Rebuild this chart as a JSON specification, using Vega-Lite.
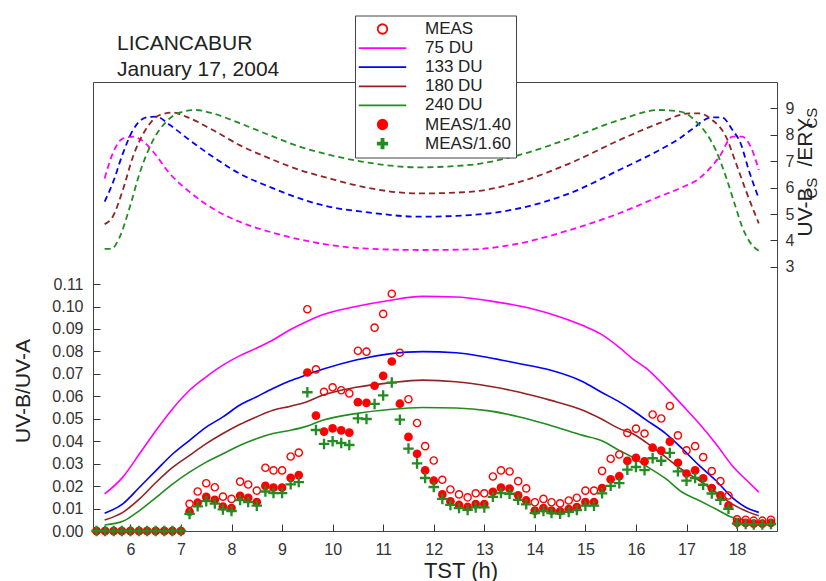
{
  "$schema": "https://vega.github.io/schema/vega-lite/v6.json",
  "width": 684,
  "height": 449,
  "autosize": {"type": "none"},
  "padding": {"left": 93, "top": 82, "right": 49, "bottom": 50},
  "background": "white",
  "config": {
    "font": "Liberation Sans",
    "view": {"stroke": "#444", "strokeWidth": 1},
    "axis": {"grid": false, "domain": false, "tickColor": "#333", "tickWidth": 1, "labelColor": "#333", "labelFont": "Liberation Sans", "labelFontSize": 16, "titleFont": "Liberation Sans", "titleFontWeight": "normal", "titleColor": "#222"}
  },
  "title": {"text": ["LICANCABUR", "January 17, 2004"], "anchor": "start", "frame": "group", "dx": 24, "dy": 89, "offset": 3, "fontSize": 21, "fontWeight": "normal", "font": "Liberation Sans", "color": "#222", "lineHeight": 26, "baseline": "bottom"},
  "datasets": {
    "pts": [
      {"t": 5.33, "MEAS": 0, "d14": 0, "d16": 0},
      {"t": 5.5, "MEAS": 0, "d14": 0, "d16": 0},
      {"t": 5.67, "MEAS": 0, "d14": 0, "d16": 0},
      {"t": 5.83, "MEAS": 0, "d14": 0, "d16": 0},
      {"t": 6.0, "MEAS": 0, "d14": 0, "d16": 0},
      {"t": 6.17, "MEAS": 0, "d14": 0, "d16": 0},
      {"t": 6.33, "MEAS": 0, "d14": 0, "d16": 0},
      {"t": 6.5, "MEAS": 0, "d14": 0, "d16": 0},
      {"t": 6.67, "MEAS": 0, "d14": 0, "d16": 0},
      {"t": 6.83, "MEAS": 0, "d14": 0, "d16": 0},
      {"t": 7.0, "MEAS": 0, "d14": 0, "d16": 0},
      {"t": 7.17, "MEAS": 0.0121, "d14": 0.0086, "d16": 0.0076},
      {"t": 7.33, "MEAS": 0.0176, "d14": 0.0126, "d16": 0.011},
      {"t": 7.5, "MEAS": 0.0213, "d14": 0.0152, "d16": 0.0133},
      {"t": 7.67, "MEAS": 0.0195, "d14": 0.0139, "d16": 0.0122},
      {"t": 7.83, "MEAS": 0.0153, "d14": 0.0109, "d16": 0.0096},
      {"t": 8.0, "MEAS": 0.0143, "d14": 0.0102, "d16": 0.0089},
      {"t": 8.17, "MEAS": 0.022, "d14": 0.0157, "d16": 0.0138},
      {"t": 8.33, "MEAS": 0.0207, "d14": 0.0148, "d16": 0.0129},
      {"t": 8.5, "MEAS": 0.018, "d14": 0.0129, "d16": 0.0113},
      {"t": 8.67, "MEAS": 0.0282, "d14": 0.0201, "d16": 0.0176},
      {"t": 8.83, "MEAS": 0.027, "d14": 0.0193, "d16": 0.0169},
      {"t": 9.0, "MEAS": 0.027, "d14": 0.0193, "d16": 0.0169},
      {"t": 9.17, "MEAS": 0.0332, "d14": 0.0237, "d16": 0.0208},
      {"t": 9.33, "MEAS": 0.0349, "d14": 0.0249, "d16": 0.0218},
      {"t": 9.5, "MEAS": 0.0988, "d14": 0.0706, "d16": 0.0618},
      {"t": 9.67, "MEAS": 0.072, "d14": 0.0514, "d16": 0.045},
      {"t": 9.83, "MEAS": 0.062, "d14": 0.0443, "d16": 0.0388},
      {"t": 10.0, "MEAS": 0.064, "d14": 0.0457, "d16": 0.04},
      {"t": 10.17, "MEAS": 0.0627, "d14": 0.0448, "d16": 0.0392},
      {"t": 10.33, "MEAS": 0.0613, "d14": 0.0438, "d16": 0.0383},
      {"t": 10.5, "MEAS": 0.0803, "d14": 0.0574, "d16": 0.0502},
      {"t": 10.67, "MEAS": 0.0799, "d14": 0.0571, "d16": 0.0499},
      {"t": 10.83, "MEAS": 0.0906, "d14": 0.0647, "d16": 0.0566},
      {"t": 11.0, "MEAS": 0.0967, "d14": 0.0691, "d16": 0.0604},
      {"t": 11.17, "MEAS": 0.1057, "d14": 0.0755, "d16": 0.0661},
      {"t": 11.33, "MEAS": 0.0794, "d14": 0.0567, "d16": 0.0496},
      {"t": 11.5, "MEAS": 0.0587, "d14": 0.0419, "d16": 0.0367},
      {"t": 11.67, "MEAS": 0.0481, "d14": 0.0344, "d16": 0.0301},
      {"t": 11.83, "MEAS": 0.0378, "d14": 0.027, "d16": 0.0236},
      {"t": 12.0, "MEAS": 0.0314, "d14": 0.0224, "d16": 0.0196},
      {"t": 12.17, "MEAS": 0.0228, "d14": 0.0163, "d16": 0.0143},
      {"t": 12.33, "MEAS": 0.0185, "d14": 0.0132, "d16": 0.0116},
      {"t": 12.5, "MEAS": 0.0163, "d14": 0.0116, "d16": 0.0102},
      {"t": 12.67, "MEAS": 0.015, "d14": 0.0107, "d16": 0.0094},
      {"t": 12.83, "MEAS": 0.0168, "d14": 0.012, "d16": 0.0105},
      {"t": 13.0, "MEAS": 0.0168, "d14": 0.012, "d16": 0.0105},
      {"t": 13.17, "MEAS": 0.0243, "d14": 0.0174, "d16": 0.0152},
      {"t": 13.33, "MEAS": 0.027, "d14": 0.0193, "d16": 0.0169},
      {"t": 13.5, "MEAS": 0.0265, "d14": 0.0189, "d16": 0.0166},
      {"t": 13.67, "MEAS": 0.0222, "d14": 0.0159, "d16": 0.0139},
      {"t": 13.83, "MEAS": 0.019, "d14": 0.0136, "d16": 0.0119},
      {"t": 14.0, "MEAS": 0.0128, "d14": 0.0091, "d16": 0.008},
      {"t": 14.17, "MEAS": 0.0143, "d14": 0.0102, "d16": 0.0089},
      {"t": 14.33, "MEAS": 0.0128, "d14": 0.0091, "d16": 0.008},
      {"t": 14.5, "MEAS": 0.0123, "d14": 0.0088, "d16": 0.0077},
      {"t": 14.67, "MEAS": 0.0136, "d14": 0.0097, "d16": 0.0085},
      {"t": 14.83, "MEAS": 0.0148, "d14": 0.0106, "d16": 0.0093},
      {"t": 15.0, "MEAS": 0.018, "d14": 0.0129, "d16": 0.0113},
      {"t": 15.17, "MEAS": 0.018, "d14": 0.0129, "d16": 0.0113},
      {"t": 15.33, "MEAS": 0.0268, "d14": 0.0191, "d16": 0.0168},
      {"t": 15.5, "MEAS": 0.0322, "d14": 0.023, "d16": 0.0201},
      {"t": 15.67, "MEAS": 0.0341, "d14": 0.0244, "d16": 0.0213},
      {"t": 15.83, "MEAS": 0.0437, "d14": 0.0312, "d16": 0.0273},
      {"t": 16.0, "MEAS": 0.0456, "d14": 0.0326, "d16": 0.0285},
      {"t": 16.17, "MEAS": 0.0434, "d14": 0.031, "d16": 0.0271},
      {"t": 16.33, "MEAS": 0.0519, "d14": 0.0371, "d16": 0.0324},
      {"t": 16.5, "MEAS": 0.0501, "d14": 0.0358, "d16": 0.0313},
      {"t": 16.67, "MEAS": 0.0557, "d14": 0.0398, "d16": 0.0348},
      {"t": 16.83, "MEAS": 0.0426, "d14": 0.0304, "d16": 0.0266},
      {"t": 17.0, "MEAS": 0.0359, "d14": 0.0256, "d16": 0.0224},
      {"t": 17.17, "MEAS": 0.0378, "d14": 0.027, "d16": 0.0236},
      {"t": 17.33, "MEAS": 0.0329, "d14": 0.0235, "d16": 0.0206},
      {"t": 17.5, "MEAS": 0.0267, "d14": 0.0191, "d16": 0.0167},
      {"t": 17.67, "MEAS": 0.0222, "d14": 0.0159, "d16": 0.0139},
      {"t": 17.83, "MEAS": 0.0158, "d14": 0.0113, "d16": 0.0099},
      {"t": 18.0, "MEAS": 0.0052, "d14": 0.0037, "d16": 0.0033},
      {"t": 18.17, "MEAS": 0.005, "d14": 0.0036, "d16": 0.0031},
      {"t": 18.33, "MEAS": 0.0046, "d14": 0.0033, "d16": 0.0029},
      {"t": 18.5, "MEAS": 0.0046, "d14": 0.0033, "d16": 0.0029},
      {"t": 18.67, "MEAS": 0.005, "d14": 0.0036, "d16": 0.0031}
    ],
    "sol": [
      {"t": 5.49, "a": 0.0165, "b": 0.0079, "c": 0.0049, "d": 0.0027},
      {"t": 5.85, "a": 0.024, "b": 0.0121, "c": 0.0083, "d": 0.0043},
      {"t": 6.18, "a": 0.0344, "b": 0.0195, "c": 0.0143, "d": 0.0091},
      {"t": 6.51, "a": 0.0449, "b": 0.027, "c": 0.0217, "d": 0.015},
      {"t": 6.84, "a": 0.0546, "b": 0.0344, "c": 0.0284, "d": 0.021},
      {"t": 7.17, "a": 0.0627, "b": 0.0404, "c": 0.0337, "d": 0.0262},
      {"t": 7.5, "a": 0.0687, "b": 0.0463, "c": 0.0389, "d": 0.0307},
      {"t": 7.83, "a": 0.0739, "b": 0.0508, "c": 0.0434, "d": 0.0344},
      {"t": 8.16, "a": 0.078, "b": 0.056, "c": 0.0474, "d": 0.0381},
      {"t": 8.49, "a": 0.0814, "b": 0.0597, "c": 0.0508, "d": 0.0411},
      {"t": 8.82, "a": 0.0851, "b": 0.0635, "c": 0.0538, "d": 0.0434},
      {"t": 9.15, "a": 0.0895, "b": 0.0668, "c": 0.0555, "d": 0.0448},
      {"t": 9.48, "a": 0.0932, "b": 0.0695, "c": 0.0575, "d": 0.0466},
      {"t": 9.8, "a": 0.0963, "b": 0.072, "c": 0.0605, "d": 0.0493},
      {"t": 10.46, "a": 0.1, "b": 0.0762, "c": 0.064, "d": 0.0523},
      {"t": 11.12, "a": 0.1027, "b": 0.0789, "c": 0.066, "d": 0.0541},
      {"t": 11.78, "a": 0.1045, "b": 0.0799, "c": 0.0672, "d": 0.055},
      {"t": 12.44, "a": 0.1042, "b": 0.0794, "c": 0.0665, "d": 0.0548},
      {"t": 13.1, "a": 0.1025, "b": 0.0772, "c": 0.0645, "d": 0.0535},
      {"t": 13.7, "a": 0.1002, "b": 0.0745, "c": 0.0618, "d": 0.0508},
      {"t": 14.3, "a": 0.0968, "b": 0.0717, "c": 0.0583, "d": 0.0471},
      {"t": 14.95, "a": 0.0915, "b": 0.0665, "c": 0.0538, "d": 0.0426},
      {"t": 15.3, "a": 0.0878, "b": 0.062, "c": 0.0501, "d": 0.0404},
      {"t": 15.67, "a": 0.0818, "b": 0.0575, "c": 0.0456, "d": 0.0359},
      {"t": 15.93, "a": 0.0768, "b": 0.0538, "c": 0.0434, "d": 0.0329},
      {"t": 16.2, "a": 0.0725, "b": 0.0495, "c": 0.0395, "d": 0.029},
      {"t": 16.59, "a": 0.064, "b": 0.0434, "c": 0.0329, "d": 0.0233},
      {"t": 16.9, "a": 0.0565, "b": 0.037, "c": 0.0275, "d": 0.0175},
      {"t": 17.25, "a": 0.0479, "b": 0.0292, "c": 0.0225, "d": 0.0136},
      {"t": 17.58, "a": 0.0389, "b": 0.0225, "c": 0.0173, "d": 0.0098},
      {"t": 17.9, "a": 0.0292, "b": 0.015, "c": 0.0121, "d": 0.0061},
      {"t": 18.24, "a": 0.0215, "b": 0.0098, "c": 0.0083, "d": 0.0046},
      {"t": 18.43, "a": 0.0173, "b": 0.0083, "c": 0.0068, "d": 0.0038}
    ],
    "d75": [
      {"t": 5.49, "r": 6.35}, {"t": 5.65, "r": 7.29}, {"t": 5.85, "r": 7.86}, {"t": 6.05, "r": 7.93},
      {"t": 6.22, "r": 7.8}, {"t": 6.45, "r": 7.36}, {"t": 6.78, "r": 6.53}, {"t": 7.17, "r": 5.84},
      {"t": 7.63, "r": 5.21}, {"t": 8.16, "r": 4.71}, {"t": 8.75, "r": 4.33}, {"t": 9.35, "r": 4.04},
      {"t": 9.94, "r": 3.83}, {"t": 10.6, "r": 3.7}, {"t": 11.72, "r": 3.64}, {"t": 12.71, "r": 3.66},
      {"t": 13.7, "r": 3.89}, {"t": 14.68, "r": 4.39}, {"t": 15.67, "r": 5.03}, {"t": 16.46, "r": 5.66},
      {"t": 16.86, "r": 5.97}, {"t": 17.25, "r": 6.35}, {"t": 17.65, "r": 7.17}, {"t": 17.91, "r": 7.93},
      {"t": 18.1, "r": 7.93}, {"t": 18.27, "r": 7.55}, {"t": 18.43, "r": 6.67}
    ],
    "d133": [
      {"t": 5.49, "r": 5.47}, {"t": 5.65, "r": 6.17}, {"t": 5.85, "r": 7.29}, {"t": 6.05, "r": 8.18},
      {"t": 6.32, "r": 8.66}, {"t": 6.51, "r": 8.69}, {"t": 6.78, "r": 8.37}, {"t": 7.17, "r": 7.8},
      {"t": 7.63, "r": 7.17}, {"t": 8.16, "r": 6.53}, {"t": 8.75, "r": 6.03}, {"t": 9.35, "r": 5.59},
      {"t": 9.94, "r": 5.27}, {"t": 10.6, "r": 5.09}, {"t": 11.72, "r": 4.9}, {"t": 12.71, "r": 4.96},
      {"t": 13.7, "r": 5.22}, {"t": 14.68, "r": 5.78}, {"t": 15.67, "r": 6.67}, {"t": 16.46, "r": 7.42},
      {"t": 16.86, "r": 7.86}, {"t": 17.1, "r": 8.2}, {"t": 17.5, "r": 8.66}, {"t": 17.7, "r": 8.66},
      {"t": 17.91, "r": 8.18}, {"t": 18.07, "r": 7.68}, {"t": 18.23, "r": 6.67}, {"t": 18.43, "r": 5.59}
    ],
    "d180": [
      {"t": 5.49, "r": 4.62}, {"t": 5.65, "r": 4.9}, {"t": 5.85, "r": 5.91}, {"t": 6.05, "r": 7.17},
      {"t": 6.32, "r": 8.25}, {"t": 6.58, "r": 8.75}, {"t": 6.84, "r": 8.84}, {"t": 7.1, "r": 8.69},
      {"t": 7.63, "r": 8.18}, {"t": 8.16, "r": 7.61}, {"t": 8.75, "r": 7.11}, {"t": 9.35, "r": 6.67},
      {"t": 9.94, "r": 6.35}, {"t": 10.6, "r": 6.03}, {"t": 11.72, "r": 5.78}, {"t": 12.71, "r": 5.84},
      {"t": 13.7, "r": 6.22}, {"t": 14.68, "r": 6.91}, {"t": 15.67, "r": 7.8}, {"t": 16.46, "r": 8.44},
      {"t": 17.05, "r": 8.81}, {"t": 17.25, "r": 8.81}, {"t": 17.51, "r": 8.56}, {"t": 17.78, "r": 7.93},
      {"t": 17.98, "r": 6.92}, {"t": 18.17, "r": 5.91}, {"t": 18.43, "r": 4.65}
    ],
    "d240": [
      {"t": 5.49, "r": 3.68}, {"t": 5.62, "r": 3.68}, {"t": 5.79, "r": 4.14}, {"t": 5.99, "r": 5.28},
      {"t": 6.18, "r": 6.53}, {"t": 6.45, "r": 7.8}, {"t": 6.71, "r": 8.5}, {"t": 6.97, "r": 8.84},
      {"t": 7.3, "r": 8.94}, {"t": 7.63, "r": 8.81}, {"t": 8.16, "r": 8.44}, {"t": 8.75, "r": 7.99},
      {"t": 9.35, "r": 7.55}, {"t": 9.94, "r": 7.24}, {"t": 10.6, "r": 6.98}, {"t": 11.72, "r": 6.77},
      {"t": 12.71, "r": 6.86}, {"t": 13.7, "r": 7.24}, {"t": 14.68, "r": 7.86}, {"t": 15.67, "r": 8.56},
      {"t": 16.46, "r": 8.94}, {"t": 16.8, "r": 8.9}, {"t": 17.0, "r": 8.8}, {"t": 17.19, "r": 8.5},
      {"t": 17.39, "r": 8.06}, {"t": 17.58, "r": 7.42}, {"t": 17.78, "r": 6.41}, {"t": 17.95, "r": 5.4},
      {"t": 18.1, "r": 4.52}, {"t": 18.27, "r": 3.89}, {"t": 18.43, "r": 3.61}
    ]
  },
  "encoding": {
    "x": {
      "field": "t", "type": "quantitative",
      "scale": {"domain": [5.26, 18.79], "nice": false, "zero": false},
      "axis": {"title": "TST (h)", "values": [6, 7, 8, 9, 10, 11, 12, 13, 14, 15, 16, 17, 18], "format": "d", "tickSize": -7, "labelPadding": 17.5, "titleFontSize": 22, "titleX": 367.5, "titleY": 46, "titleAlign": "center", "titleBaseline": "alphabetic"}
    }
  },
  "layer": [
    {
      "layer": [
        {
          "data": {"name": "sol"},
          "mark": {"type": "line", "stroke": "#ff00ff", "strokeWidth": 1.6, "interpolate": "monotone"},
          "encoding": {"y": {"field": "a", "type": "quantitative", "scale": {"domain": [0, 0.2]},
            "axis": {"orient": "left", "title": "UV-B/UV-A", "values": [0, 0.01, 0.02, 0.03, 0.04, 0.05, 0.06, 0.07, 0.08, 0.09, 0.1, 0.11], "format": ".2f", "tickSize": -7, "labelPadding": 17, "titleFontSize": 21, "titleAngle": 270, "titleAlign": "center", "titleBaseline": "alphabetic", "titleX": -64, "titleY": 308.5}}}
        },
        {
          "data": {"name": "sol"},
          "mark": {"type": "line", "stroke": "#0000ff", "strokeWidth": 1.6, "interpolate": "monotone"},
          "encoding": {"y": {"field": "b", "type": "quantitative", "scale": {"domain": [0, 0.2]}}}
        },
        {
          "data": {"name": "sol"},
          "mark": {"type": "line", "stroke": "#912424", "strokeWidth": 1.6, "interpolate": "monotone"},
          "encoding": {"y": {"field": "c", "type": "quantitative", "scale": {"domain": [0, 0.2]}}}
        },
        {
          "data": {"name": "sol"},
          "mark": {"type": "line", "stroke": "#228b22", "strokeWidth": 1.6, "interpolate": "monotone"},
          "encoding": {"y": {"field": "d", "type": "quantitative", "scale": {"domain": [0, 0.2]}}}
        },
        {
          "data": {"name": "pts"},
          "transform": [{"fold": ["MEAS"], "as": ["s", "v"]}],
          "mark": {"type": "point", "filled": true, "size": 52, "strokeWidth": 1.4, "opacity": 1},
          "encoding": {
            "y": {"field": "v", "type": "quantitative", "scale": {"domain": [0, 0.2]}},
            "stroke": {"field": "s", "type": "nominal",
              "scale": {"domain": ["MEAS", "\u00a075 DU", "133 DU", "180 DU", "240 DU", "MEAS/1.40", "MEAS/1.60"], "range": ["#ff0000", "#ff00ff", "#0000ff", "#912424", "#228b22", "#ff0000", "#228b22"]},
              "legend": {"orient": "none", "direction": "vertical", "columns": 1, "legendX": 262, "legendY": -66.5, "title": null, "padding": 5, "strokeColor": "#444", "fillColor": "white", "symbolFillColor": "transparent", "symbolStrokeColor": "#000", "symbolSize": 90, "symbolStrokeWidth": 1.8, "symbolOffset": 14, "labelOffset": 34, "labelFontSize": 17, "labelFont": "Liberation Sans", "labelColor": "#222", "rowPadding": 1.1, "labelLimit": 300}},
            "fill": {"field": "s", "type": "nominal",
              "scale": {"domain": ["MEAS", "\u00a075 DU", "133 DU", "180 DU", "240 DU", "MEAS/1.40", "MEAS/1.60"], "range": ["transparent", "transparent", "transparent", "transparent", "transparent", "#ff0000", "#228b22"]},
              "legend": {"orient": "none", "direction": "vertical", "columns": 1, "legendX": 262, "legendY": -66.5, "title": null, "padding": 5, "strokeColor": "#444", "fillColor": "white", "symbolFillColor": "transparent", "symbolStrokeColor": "#000", "symbolSize": 90, "symbolStrokeWidth": 1.8, "symbolOffset": 14, "labelOffset": 34, "labelFontSize": 17, "labelFont": "Liberation Sans", "labelColor": "#222", "rowPadding": 1.1, "labelLimit": 300}},
            "shape": {"field": "s", "type": "nominal",
              "scale": {"domain": ["MEAS", "\u00a075 DU", "133 DU", "180 DU", "240 DU", "MEAS/1.40", "MEAS/1.60"], "range": ["circle", "M-5,0H5", "M-5,0H5", "M-5,0H5", "M-5,0H5", "circle", "M-1,-0.22H1V0.22H-1ZM-0.22,-1H0.22V1H-0.22Z"]},
              "legend": {"orient": "none", "direction": "vertical", "columns": 1, "legendX": 262, "legendY": -66.5, "title": null, "padding": 5, "strokeColor": "#444", "fillColor": "white", "symbolFillColor": "transparent", "symbolStrokeColor": "#000", "symbolSize": 90, "symbolStrokeWidth": 1.8, "symbolOffset": 14, "labelOffset": 34, "labelFontSize": 17, "labelFont": "Liberation Sans", "labelColor": "#222", "rowPadding": 1.1, "labelLimit": 300}}
          }
        },
        {
          "data": {"name": "pts"},
          "mark": {"type": "point", "shape": "circle", "filled": true, "color": "#ff0000", "size": 76, "opacity": 1},
          "encoding": {"y": {"field": "d14", "type": "quantitative", "scale": {"domain": [0, 0.2]}}}
        },
        {
          "data": {"name": "pts"},
          "mark": {"type": "point", "shape": "M-1,-0.22H1V0.22H-1ZM-0.22,-1H0.22V1H-0.22Z", "filled": true, "color": "#228b22", "size": 110, "opacity": 1},
          "encoding": {"y": {"field": "d16", "type": "quantitative", "scale": {"domain": [0, 0.2]}}}
        }
      ]
    },
    {
      "encoding": {
        "y": {"field": "r", "type": "quantitative", "scale": {"domain": [-7, 10]},
          "axis": {"orient": "right", "title": "UV-B\u2003/ERY\u2003", "values": [3, 4, 5, 6, 7, 8, 9], "format": "d", "tickSize": -7, "labelPadding": 15, "titleFontSize": 21, "titleAngle": 270, "titleAlign": "center", "titleBaseline": "alphabetic", "titleX": 34.4, "titleY": 94.7}}
      },
      "layer": [
        {"data": {"name": "d75"}, "mark": {"type": "line", "stroke": "#ff00ff", "strokeWidth": 1.8, "strokeDash": [6, 4], "interpolate": "monotone"}},
        {"data": {"name": "d133"}, "mark": {"type": "line", "stroke": "#0000ff", "strokeWidth": 1.8, "strokeDash": [6, 4], "interpolate": "monotone"}},
        {"data": {"name": "d180"}, "mark": {"type": "line", "stroke": "#912424", "strokeWidth": 1.8, "strokeDash": [6, 4], "interpolate": "monotone"}},
        {"data": {"name": "d240"}, "mark": {"type": "line", "stroke": "#228b22", "strokeWidth": 1.8, "strokeDash": [6, 4], "interpolate": "monotone"}}
      ]
    },
    {
      "data": {"name": "d75"},
      "mark": {"type": "point", "opacity": 0},
      "encoding": {
        "y": {"field": "r", "type": "quantitative", "scale": {"domain": [-7, 10]},
          "axis": {"orient": "right", "title": "CS\u2003\u2003\u2003\u00a0CS", "ticks": false, "labels": false, "domain": false, "titleFontSize": 15, "titleAngle": 270, "titleAlign": "center", "titleBaseline": "alphabetic", "titleX": 39, "titleY": 70.7}}
      }
    }
  ],
  "resolve": {"scale": {"y": "independent"}}
}
